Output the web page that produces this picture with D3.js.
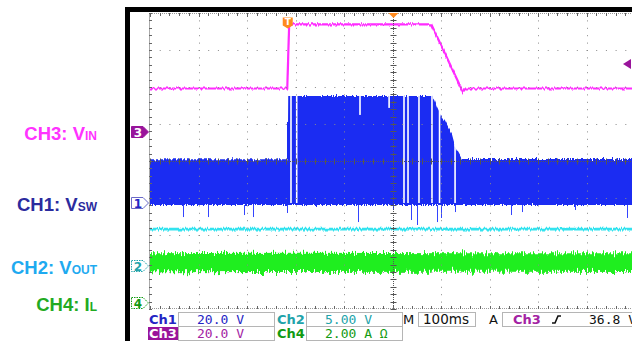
<!DOCTYPE html>
<html>
<head>
<meta charset="utf-8">
<script src="https://cdn.jsdelivr.net/npm/d3@7"></script>
<style>
body { margin: 0; background: #fff; }
svg { display: block; }
</style>
</head>
<body>
<div id="wrapper"></div>
<script>
const width = 632, height = 341;

// graticule 10 x 8 div, time in ms from the left edge (100 ms/div)
const xDivs = 10, yDivs = 8;
const timeDomain = [0, 1000];

// channels 1..4
const chNames = ["CH1", "CH2", "CH3", "CH4"];
const chPerDiv = [20, 5, 20, 2];            // V/div, A/div
const chOffset = [-1.135, -2.84, 0.78, -3.85]; // ground marker, div from centre
const chColors = ["#1b2cf2", "#33e3ef", "#ff2bff", "#1fee1f"];

// left labels
const labelMain = ["CH1: V", "CH2: V", "CH3: V", "CH4: I"];
const labelSub = ["SW", "OUT", "IN", "L"];
const labelColors = ["#2b2b9e", "#1eaaf0", "#ff33ff", "#22aa22"];

// CH3: VIN
const vinT = [0, 283, 287, 580, 645, 651, 1000];
const vinV = [23.6, 23.6, 58.2, 58.2, 21.8, 23.6, 23.6];

// CH1: VSW envelope
const vswT = [0, 284, 285, 581, 586, 592, 598, 600, 608, 614, 623, 629, 635, 643, 1000];
const vswTop = [23.6, 23.6, 57.8, 57.8, 56.2, 51.9, 48.6, 47.0, 44.9, 41.6, 36.8, 30.8, 27.6, 23.8, 23.8];
const vswBottom = -1.1;
// moments without switching (white gaps), gap reaches down to gapTo
const gapT = [290.7, 302.5, 433, 493, 523.7, 532, 554.6, 581.4, 597, 629];
const gapTo = [0, 0, 47.6, 51.4, 0, 0, 0, 0, 0, 0];
// ringing spikes below ground
const spikeT = [68, 120, 194, 212, 282, 429, 501, 538, 551, 592, 600, 629, 744, 767, 876, 984];
const spikeV = [-7.6, -7.6, -6.5, -7.6, -5.4, -10.3, -3.8, -9.2, -11.9, -10.3, -8.1, -4.9, -6.5, -4.9, -3.8, -8.1];
const glitchT = [282], glitchV = [43.8];

// CH2: VOUT
const voutT = [0, 1000];
const voutV = [5.0, 5.0];

// CH4: IL band
const ilT = [0, 300, 650, 1000];
const ilHi = [2.72, 2.74, 2.72, 2.72];
const ilLo = [1.68, 1.70, 1.72, 1.70];

// readout
const statusNames = ["Ch1", "Ch2", "Ch3", "Ch4"];
const statusValues = ["20.0 V", "5.00 V", "20.0 V", "2.00 A \u03a9"];
const statusColors = ["#2424c4", "#21a3aa", "#a322a3", "#129a12"];
const timebase = "100ms";
const trigSource = "Ch3";
const trigLevel = 36.8;
const trigTime = 284;

const plot = {x: 150, y: 13, w: 485, h: 296};

const svg = d3.select("#wrapper").append("svg")
    .attr("width", width)
    .attr("height", height)
    .style("font-family", "'DejaVu Sans', sans-serif");

const x = d3.scaleLinear().domain(timeDomain).range([plot.x, plot.x + plot.w]);
const yDiv = d3.scaleLinear().domain([yDivs / 2, -yDivs / 2]).range([plot.y, plot.y + plot.h]);
const chY = i => v => yDiv(chOffset[i] + v / chPerDiv[i]);
const y1 = chY(0), y2 = chY(1), y3 = chY(2), y4 = chY(3);

const defs = svg.append("defs");
defs.append("clipPath").attr("id", "clip")
    .append("rect")
    .attr("x", plot.x).attr("y", plot.y)
    .attr("width", plot.w).attr("height", plot.h);

function noiseFilter(id, freq, scale, seed) {
    const f = defs.append("filter").attr("id", id)
        .attr("filterUnits", "userSpaceOnUse")
        .attr("x", 140).attr("y", 0).attr("width", 500).attr("height", 330)
        .attr("color-interpolation-filters", "sRGB");
    f.append("feTurbulence").attr("type", "fractalNoise")
        .attr("baseFrequency", freq).attr("numOctaves", 2)
        .attr("seed", seed).attr("result", "n");
    f.append("feColorMatrix").attr("in", "n").attr("type", "matrix")
        .attr("values", "0 0 0 0 0.5  0 1 0 0 0  0 0 0 0 0  0 0 0 0 1")
        .attr("result", "m");
    f.append("feDisplacementMap").attr("in", "SourceGraphic").attr("in2", "m")
        .attr("scale", scale)
        .attr("xChannelSelector", "R").attr("yChannelSelector", "G");
}
noiseFilter("nz1", "0.9 0.01", 6, 2);
noiseFilter("nz2", "0.9 0.05", 4, 5);
noiseFilter("nz3", "0.8 0.05", 4, 7);
noiseFilter("nz4", "0.9 0.02", 13, 11);

// frame
svg.append("rect").attr("x", 125).attr("y", 7).attr("width", 5).attr("height", height - 7).attr("fill", "#000");
svg.append("rect").attr("x", 125).attr("y", 7).attr("width", width - 125).attr("height", 5).attr("fill", "#000");

// traces
const traces = svg.append("g").attr("clip-path", "url(#clip)");

// CH4 band
traces.append("path")
    .datum(d3.range(ilT.length))
    .attr("d", d3.area().x(i => x(ilT[i])).y0(i => y4(ilLo[i])).y1(i => y4(ilHi[i])))
    .attr("fill", chColors[3])
    .attr("filter", "url(#nz4)");

// CH2 line
traces.append("path")
    .datum(d3.range(voutT.length))
    .attr("d", d3.line().x(i => x(voutT[i])).y(i => y2(voutV[i])))
    .attr("fill", "none")
    .attr("stroke", chColors[1])
    .attr("stroke-width", 2.6)
    .attr("filter", "url(#nz2)");

// CH1 band
traces.append("path")
    .datum(d3.range(vswT.length))
    .attr("d", d3.area().x(i => x(vswT[i])).y0(y1(vswBottom)).y1(i => y1(vswTop[i])))
    .attr("fill", chColors[0])
    .attr("filter", "url(#nz1)");

const topAt = d3.scaleLinear().domain(vswT).range(vswTop);
traces.append("g").selectAll("rect")
    .data(d3.range(gapT.length))
    .join("rect")
    .attr("x", i => x(gapT[i]) - 0.8)
    .attr("width", 1.6)
    .attr("y", i => y1(topAt(gapT[i])) - 5)
    .attr("height", i => y1(gapTo[i]) - y1(topAt(gapT[i])) + 5)
    .attr("fill", "#fff");

traces.append("g").selectAll("line")
    .data(d3.range(spikeT.length))
    .join("line")
    .attr("x1", i => Math.round(x(spikeT[i])) + 0.5)
    .attr("x2", i => Math.round(x(spikeT[i])) + 0.5)
    .attr("y1", y1(vswBottom))
    .attr("y2", i => y1(spikeV[i]))
    .attr("stroke", "#3344ff")
    .attr("stroke-width", 1);

traces.append("g").selectAll("line")
    .data(d3.range(glitchT.length))
    .join("line")
    .attr("x1", i => Math.round(x(glitchT[i])) + 0.5)
    .attr("x2", i => Math.round(x(glitchT[i])) + 0.5)
    .attr("y1", y1(vswTop[0]))
    .attr("y2", i => y1(glitchV[i]))
    .attr("stroke", chColors[0])
    .attr("stroke-width", 1);

// graticule
const grid = svg.append("g");
const xd = d3.scaleLinear().domain([0, xDivs]).range([plot.x, plot.x + plot.w]);
const yd = d3.scaleLinear().domain([0, yDivs]).range([plot.y, plot.y + plot.h]);
const px = v => Math.round(v) + 0.5;

grid.selectAll(".vl")
    .data(d3.range(1, xDivs).filter(d => d !== xDivs / 2))
    .join("line")
    .attr("x1", d => px(xd(d))).attr("x2", d => px(xd(d)))
    .attr("y1", plot.y).attr("y2", plot.y + plot.h)
    .attr("stroke", "#8a8a8a")
    .attr("stroke-dasharray", "1 " + (plot.h / yDivs / 5 - 1));

grid.selectAll(".hl")
    .data(d3.range(1, yDivs).filter(d => d !== yDivs / 2))
    .join("line")
    .attr("y1", d => px(yd(d))).attr("y2", d => px(yd(d)))
    .attr("x1", plot.x).attr("x2", plot.x + plot.w)
    .attr("stroke", "#8a8a8a")
    .attr("stroke-dasharray", "1 " + (plot.w / xDivs / 5 - 1));

// centre lines
const cx = px(xd(xDivs / 2)), cy = px(yd(yDivs / 2));
grid.append("line").attr("x1", cx).attr("x2", cx).attr("y1", plot.y).attr("y2", plot.y + plot.h)
    .attr("stroke", "#555").attr("stroke-dasharray", "1 1");
grid.append("line").attr("y1", cy).attr("y2", cy).attr("x1", plot.x).attr("x2", plot.x + plot.w)
    .attr("stroke", "#555").attr("stroke-dasharray", "1 1");

const xMinor = d3.range(0, xDivs * 5 + 1).map(d => d / 5);
const yMinor = d3.range(0, yDivs * 5 + 1).map(d => d / 5);

grid.append("g").selectAll("line").data(xMinor).join("line")
    .attr("x1", d => px(xd(d))).attr("x2", d => px(xd(d)))
    .attr("y1", cy - 3).attr("y2", cy + 3)
    .attr("stroke", "#555");
grid.append("g").selectAll("line").data(yMinor).join("line")
    .attr("y1", d => px(yd(d))).attr("y2", d => px(yd(d)))
    .attr("x1", cx - 3).attr("x2", cx + 3)
    .attr("stroke", "#555");

// edges
grid.append("line").attr("x1", plot.x - 0.5).attr("x2", plot.x - 0.5)
    .attr("y1", plot.y).attr("y2", plot.y + plot.h).attr("stroke", "#aaa");
grid.append("line").attr("x1", plot.x).attr("x2", width)
    .attr("y1", plot.y + 0.5).attr("y2", plot.y + 0.5).attr("stroke", "#999")
    .attr("stroke-dasharray", "1 1");
grid.append("line").attr("x1", plot.x).attr("x2", width)
    .attr("y1", plot.y + plot.h - 0.5).attr("y2", plot.y + plot.h - 0.5).attr("stroke", "#999")
    .attr("stroke-dasharray", "1 1");
grid.append("g").selectAll("line").data(xMinor).join("line")
    .attr("x1", d => px(xd(d))).attr("x2", d => px(xd(d)))
    .attr("y1", plot.y).attr("y2", d => plot.y + (d % 1 === 0 ? 4 : 3))
    .attr("stroke", "#666");
grid.append("g").selectAll("line").data(xMinor).join("line")
    .attr("x1", d => px(xd(d))).attr("x2", d => px(xd(d)))
    .attr("y1", plot.y + plot.h).attr("y2", plot.y + plot.h - 3)
    .attr("stroke", "#666");
grid.append("g").selectAll("line").data(yMinor).join("line")
    .attr("y1", d => px(yd(d))).attr("y2", d => px(yd(d)))
    .attr("x1", plot.x - 1).attr("x2", plot.x + 2)
    .attr("stroke", "#666");

// CH3 trace on top
traces.append("path")
    .datum(d3.range(vinT.length))
    .attr("d", d3.line().x(i => x(vinT[i])).y(i => y3(vinV[i])))
    .attr("fill", "none")
    .attr("stroke", chColors[2])
    .attr("stroke-width", 2.2)
    .attr("filter", "url(#nz3)");

// trigger markers
const tx = x(trigTime), ty = y3(vinV[2]) - 1;
svg.append("path")
    .attr("d", `M${tx - 5},${ty - 6} h10 v8 l-5,3 l-5,-3 z`)
    .attr("fill", "#ff8a1e");
svg.append("text").attr("x", tx).attr("y", ty + 1.5)
    .attr("text-anchor", "middle").attr("font-size", 9).attr("font-weight", "bold")
    .attr("fill", "#fff").text("T");
svg.append("path")
    .attr("d", `M${cx - 5},${plot.y} h10 l-5,5 z`)
    .attr("fill", "#ff8a1e");
const ly = y3(trigLevel);
svg.append("path")
    .attr("d", `M${width - 9},${ly} l8,-5 v10 z`)
    .attr("fill", "#99149b");

// ground markers
const markers = svg.append("g").selectAll("g")
    .data(d3.range(4))
    .join("g")
    .attr("transform", i => `translate(0,${Math.round(yDiv(chOffset[i]))})`);
markers.append("path")
    .attr("d", "M131.5,-5.5 H143 L148.5,0 L143,5.5 H131.5 Z")
    .attr("fill", i => i === 2 ? "#99149b" : "#fff")
    .attr("stroke", i => i === 2 ? "#99149b" : i === 0 ? "#6a6ac8" : statusColors[i])
    .attr("stroke-dasharray", i => i === 1 || i === 3 ? "1.5 1" : null);
markers.append("text")
    .attr("x", 138).attr("y", 4.5)
    .attr("text-anchor", "middle")
    .attr("font-size", 12).attr("font-weight", "bold")
    .attr("fill", i => i === 2 ? "#fff" : statusColors[i])
    .text(i => i + 1);

// left labels
const labels = svg.append("g").selectAll("text")
    .data(d3.range(4))
    .join("text")
    .attr("x", 97)
    .attr("y", i => Math.round(yDiv(chOffset[i])) + 8)
    .attr("text-anchor", "end")
    .attr("font-family", "'Liberation Sans', Arial, sans-serif")
    .attr("font-weight", "bold")
    .attr("fill", i => labelColors[i]);
labels.append("tspan").attr("font-size", 18.5).text(i => labelMain[i]);
labels.append("tspan").attr("font-size", 12).text(i => labelSub[i]);

// readout
const status = svg.append("g");
const rowY = [312.5, 326.5];
const cellW = 128;
d3.range(4).forEach(i => {
    const col = i % 2, row = Math.floor(i / 2);
    const x0 = 149 + col * cellW;
    if (i === 2) {
        status.append("rect").attr("x", 148).attr("y", rowY[row] + 0.5)
            .attr("width", 30).attr("height", 13).attr("fill", "#99149b");
    }
    status.append("rect")
        .attr("x", x0 + 29.5).attr("y", rowY[row])
        .attr("width", 96).attr("height", 14)
        .attr("fill", "none").attr("stroke", "#b5b5b5");
    status.append("text")
        .attr("x", x0).attr("y", rowY[row] + 11)
        .attr("font-size", 13).attr("font-weight", "bold")
        .attr("fill", i === 2 ? "#fff" : statusColors[i])
        .text(statusNames[i]);
    status.append("text")
        .attr("x", x0 + 48).attr("y", rowY[row] + 11)
        .attr("font-family", "'DejaVu Sans Mono', monospace")
        .attr("font-size", 13)
        .attr("fill", statusColors[i])
        .text(statusValues[i]);
});

status.append("text").attr("x", 403).attr("y", rowY[0] + 11)
    .attr("font-size", 13).attr("fill", "#111").text("M");
status.append("rect").attr("x", 418.5).attr("y", rowY[0])
    .attr("width", 57).attr("height", 14).attr("fill", "none").attr("stroke", "#b5b5b5");
status.append("text").attr("x", 423).attr("y", rowY[0] + 11)
    .attr("font-size", 13.5).attr("fill", "#111").text(timebase);
status.append("text").attr("x", 489).attr("y", rowY[0] + 11)
    .attr("font-size", 13).attr("fill", "#111").text("A");
status.append("rect").attr("x", 502.5).attr("y", rowY[0])
    .attr("width", 140).attr("height", 14).attr("fill", "none").attr("stroke", "#b5b5b5");
status.append("text").attr("x", 513).attr("y", rowY[0] + 11)
    .attr("font-size", 13).attr("font-weight", "bold").attr("fill", statusColors[2]).text(trigSource);
status.append("path")
    .attr("d", `M552,${rowY[0] + 10.5} h3 l3,-7 h3`)
    .attr("fill", "none").attr("stroke", "#111").attr("stroke-width", 1.6);
status.append("text").attr("x", 589).attr("y", rowY[0] + 11)
    .attr("font-family", "'DejaVu Sans Mono', monospace")
    .attr("font-size", 13).attr("fill", "#111")
    .text(d3.format(".1f")(trigLevel) + " V");
</script>
</body>
</html>
